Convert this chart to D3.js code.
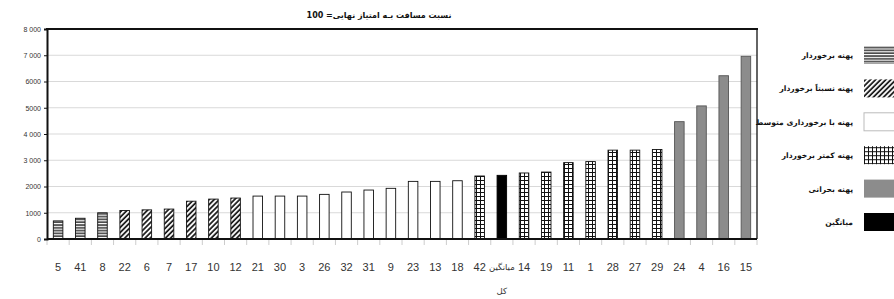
<!DOCTYPE html>
<meta charset="utf-8">
<head>
  <style>
    body { margin: 0; background: #fff; }
    .grid line { stroke: #d9d9d9; stroke-width: 1; }
    .ylab text { font: 7px "Liberation Sans", Arial, sans-serif; fill: #333; }
    .xlab { font: 11px "Liberation Sans", Arial, sans-serif; fill: #333; }
    .leg text { font: bold 7.6px "DejaVu Sans", sans-serif; fill: #111; }
    .title { font: bold 8px "DejaVu Sans", sans-serif; fill: #111; }
  </style>
  <script src="https://cdn.jsdelivr.net/npm/d3@7"></script>
</head>
<body>
<script>

var width = 894, height = 299;

// categories (left to right), values and class of each bar
var categories = ["5","41","8","22","6","7","17","10","12","21","30","3","26","32","31","9","23","13","18","42","میانگین کل","14","19","11","1","28","27","29","24","4","16","15"];
var values = [690,790,1000,1085,1110,1140,1440,1520,1560,1635,1635,1635,1700,1790,1865,1930,2195,2195,2220,2400,2425,2515,2550,2910,2950,3385,3385,3410,4470,5070,6220,6960];
var groups = [0,0,0,1,1,1,1,1,1,2,2,2,2,2,2,2,2,2,2,3,5,3,3,3,3,3,3,3,4,4,4,4];

var yTicks = [0,1000,2000,3000,4000,5000,6000,7000,8000];
var yTickLabels = ["0","1000","2000","3 000","4 000","5000","6000","7 000","8 000"];

var legendLabels = ["پهنه برخوردار","پهنه نسبتاً برخوردار","پهنه با برخورداری متوسط","پهنه کمتر برخوردار","پهنه بحرانی","میانگین"];
var title = "نسبت مسافت بـه امتیاز نهایی= 100";

var svg = d3.select("body").append("svg")
    .attr("width", width)
    .attr("height", height);

// fill patterns
var defs = svg.append("defs");

var p0 = defs.append("pattern").attr("id", "hstripe")
    .attr("patternUnits", "userSpaceOnUse").attr("width", 4).attr("height", 2.8);
p0.append("rect").attr("width", 4).attr("height", 2.8).attr("fill", "#fff");
p0.append("line").attr("x1", 0).attr("x2", 4).attr("y1", 1).attr("y2", 1)
    .attr("stroke", "#111").attr("stroke-width", 1.3);

var p1 = defs.append("pattern").attr("id", "diag")
    .attr("patternUnits", "userSpaceOnUse").attr("width", 3.6).attr("height", 3.6)
    .attr("patternTransform", "rotate(45)");
p1.append("rect").attr("width", 3.6).attr("height", 3.6).attr("fill", "#fff");
p1.append("line").attr("x1", 1).attr("x2", 1).attr("y1", 0).attr("y2", 3.6)
    .attr("stroke", "#111").attr("stroke-width", 1.7);

var p3 = defs.append("pattern").attr("id", "grid")
    .attr("patternUnits", "userSpaceOnUse").attr("width", 4).attr("height", 4);
p3.append("rect").attr("width", 4).attr("height", 4).attr("fill", "#fff");
p3.append("path").attr("d", "M0,0.5H4M0.5,0V4")
    .attr("stroke", "#111").attr("stroke-width", 1).attr("fill", "none");

var fills = ["url(#hstripe)", "url(#diag)", "#fff", "url(#grid)", "#8c8c8c", "#000"];
var strokes = ["#111", "#111", "#111", "#111", "#555", "#000"];

var x = d3.scaleBand()
    .domain(categories)
    .range([47, 757])
    .paddingInner(0.57)
    .paddingOuter(0.285);

var y = d3.scaleLinear()
    .domain([0, 8000])
    .range([239, 29]);

// gridlines
svg.append("g").attr("class", "grid")
  .selectAll("line")
  .data(yTicks.slice(1, -1))
  .enter().append("line")
    .attr("x1", 47).attr("x2", 757)
    .attr("y1", function(d) { return y(d); })
    .attr("y2", function(d) { return y(d); });

// faint ticks between categories
svg.append("g")
  .selectAll("line")
  .data(d3.range(categories.length + 1))
  .enter().append("line")
    .attr("x1", function(i) { return 47 + i * x.step(); })
    .attr("x2", function(i) { return 47 + i * x.step(); })
    .attr("y1", 240).attr("y2", 245)
    .attr("stroke", "#ccc");

// bars
svg.append("g")
  .selectAll("rect")
  .data(categories)
  .enter().append("rect")
    .attr("x", function(d) { return x(d); })
    .attr("width", x.bandwidth())
    .attr("y", function(d, i) { return y(values[i]); })
    .attr("height", function(d, i) { return y(0) - y(values[i]); })
    .attr("fill", function(d, i) { return fills[groups[i]]; })
    .attr("stroke", function(d, i) { return strokes[groups[i]]; })
    .attr("stroke-width", 0.9);

// frame
svg.append("line").attr("x1", 46).attr("x2", 758).attr("y1", 29).attr("y2", 29)
    .attr("stroke", "#111").attr("stroke-width", 2);
svg.append("line").attr("x1", 757).attr("x2", 757).attr("y1", 29).attr("y2", 239)
    .attr("stroke", "#111").attr("stroke-width", 1.3);
svg.append("line").attr("x1", 47).attr("x2", 757).attr("y1", 239).attr("y2", 239)
    .attr("stroke", "#111").attr("stroke-width", 2);

// y axis
var yAxis = d3.axisLeft(y)
    .tickValues(yTicks)
    .tickSize(3)
    .tickPadding(3)
    .tickFormat(function(d, i) { return yTickLabels[i]; });

var ya = svg.append("g").attr("class", "ylab")
    .attr("transform", "translate(47,0)")
    .style("color", "#333")
    .call(yAxis);
ya.select(".domain").attr("stroke", "#111").attr("stroke-width", 2);
ya.selectAll(".tick line").attr("stroke", "#111");
ya.selectAll(".tick text").attr("fill", "#333");

// x labels
var xl = svg.append("g")
  .selectAll("text")
  .data(categories)
  .enter().append("text")
    .attr("class", "xlab")
    .attr("text-anchor", "middle")
    .attr("x", function(d) { return x(d) + x.bandwidth() / 2; })
    .attr("y", 271);
xl.each(function(d) {
  var parts = d.split(" ");
  var t = d3.select(this);
  if (parts.length === 1) { t.text(d); return; }
  t.style("font", "8.5px 'DejaVu Sans', sans-serif");
  t.append("tspan").attr("x", t.attr("x")).attr("dy", -1).text(parts[0]);
  t.append("tspan").attr("x", t.attr("x")).attr("dy", 24).text(parts[1]);
});

// title
svg.append("text").attr("class", "title")
    .attr("x", 379).attr("y", 18)
    .attr("text-anchor", "middle")
    .text(title);

// legend
var leg = svg.append("g").attr("class", "leg")
  .selectAll("g")
  .data(legendLabels)
  .enter().append("g")
    .attr("transform", function(d, i) { return "translate(0," + (55 + i * 33.4) + ")"; });

leg.append("rect")
    .attr("x", 864).attr("y", -9)
    .attr("width", 34).attr("height", 18)
    .attr("fill", function(d, i) { return fills[i]; })
    .attr("stroke", function(d, i) { return i === 2 ? "#bbb" : "none"; });

leg.append("text")
    .attr("x", 853).attr("y", 3)
    .attr("text-anchor", "end")
    .text(function(d) { return d; });

</script>
</body>
